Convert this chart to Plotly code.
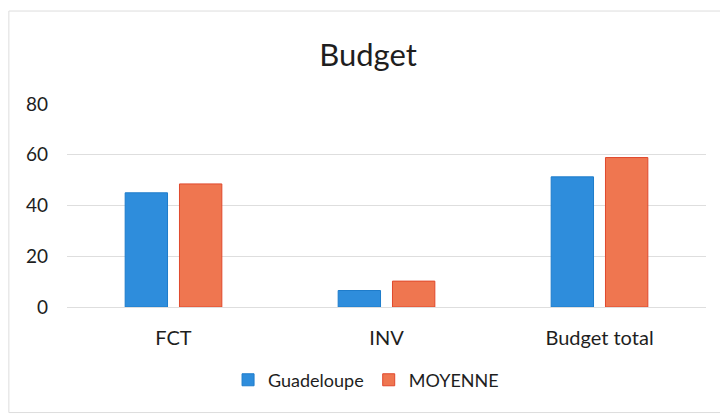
import plotly.graph_objects as go

# Budget categories and values
categories = ["FCT", "INV", "Budget total"]
guadeloupe = [45, 6.5, 51.3]
moyenne = [48.5, 10.2, 58.9]

font_family = "Lato, 'Open Sans', sans-serif"

fig = go.Figure()

fig.add_trace(go.Bar(
    x=categories,
    y=guadeloupe,
    name="Guadeloupe",
    marker=dict(color="#2E8DDC", line=dict(color="#1E7CCB", width=1)),
))

fig.add_trace(go.Bar(
    x=categories,
    y=moyenne,
    name="MOYENNE",
    marker=dict(color="#EF7650", line=dict(color="#E0482C", width=1)),
))

# the page body adds an 8px margin, so the figure is sized 720x410
fig.update_layout(
    width=720,
    height=410,
    margin=dict(l=59, r=22, t=96, b=111),
    paper_bgcolor="white",
    plot_bgcolor="white",
    font=dict(family=font_family, color="#1e1e1e", size=18),
    title=dict(
        text="Budget",
        x=0.5,
        xanchor="center",
        y=0.885,
        yanchor="middle",
        font=dict(size=31, color="#1e1e1e"),
    ),
    barmode="group",
    bargap=0.49,
    bargroupgap=0.22,
    showlegend=True,
    legend=dict(
        orientation="h",
        x=0.468,
        xanchor="center",
        y=-0.36,
        yanchor="middle",
        font=dict(size=18),
        itemwidth=30,
    ),
    shapes=[dict(
        type="rect",
        xref="paper", yref="paper",
        x0=-0.091, x1=1.025, y0=-0.52, y1=1.458,
        line=dict(color="#dddddd", width=1),
    )],
)

fig.update_xaxes(
    showgrid=False,
    showline=False,
    ticks="",
    tickfont=dict(size=20),
    ticklabelstandoff=17,
)

fig.update_yaxes(
    range=[0, 80],
    tickvals=[0, 20, 40, 60, 80],
    showgrid=True,
    gridcolor="#dedede",
    gridwidth=1,
    zeroline=True,
    zerolinecolor="#dedede",
    zerolinewidth=1,
    showline=False,
    ticks="",
    tickfont=dict(size=19),
    ticklabelstandoff=18,
)

fig.write_html("out.html")
